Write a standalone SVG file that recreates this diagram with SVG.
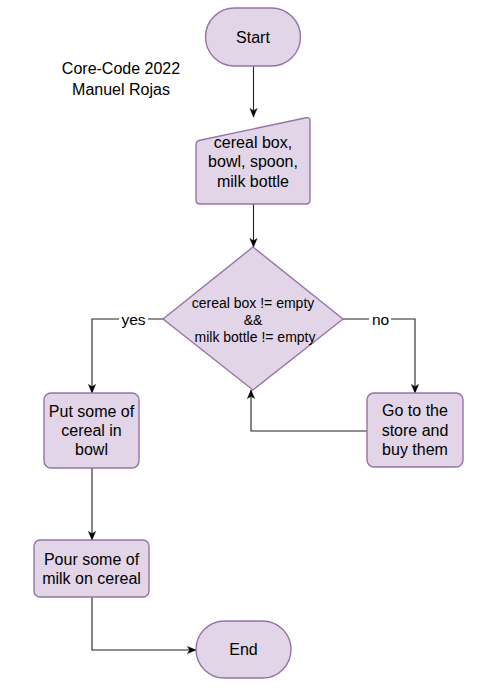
<svg xmlns="http://www.w3.org/2000/svg" width="480" height="693" viewBox="0 0 480 693">
<style>
.n{fill:#e1d5e7;stroke:#9673a6;stroke-width:1.4;stroke-linejoin:round}
.t{font-family:"Liberation Sans",Arial,sans-serif;font-size:16px;fill:#000;text-anchor:middle}
.d{font-size:14px}
.c{fill:none;stroke:#222;stroke-width:1.1;marker-end:url(#a)}
.l{font-family:"Liberation Sans",Arial,sans-serif;font-size:15.5px;fill:#000;text-anchor:middle}
</style>
<defs>
<marker id="a" viewBox="0 0 10 10" refX="10" refY="5" markerWidth="9" markerHeight="9" markerUnits="userSpaceOnUse" orient="auto">
<path d="M0.5,1 L10,5 L0.5,9 L3,5 Z" fill="#000" stroke="#000" stroke-width="0.5"/>
</marker>
</defs>
<rect width="480" height="693" fill="#fff"/>
<g id="credit">
<text class="t" x="121" y="74">Core-Code 2022</text>
<text class="t" x="121" y="95">Manuel Rojas</text>
</g>
<g id="connectors">
<path class="c" d="M253.5,66 L253.5,117"/>
<path class="c" d="M253.5,204 L253.5,247"/>
<path class="c" d="M163,319 L92,319 L92,393"/>
<path class="c" d="M343,319 L415,319 L415,393"/>
<path class="c" d="M367,431 L251,431 L251,390"/>
<path class="c" d="M92,468 L92,540"/>
<path class="c" d="M92,597 L92,650 L196,650"/>
<rect x="119" y="310" width="29" height="18" fill="#fff"/>
<text class="l" x="133.5" y="324.5">yes</text>
<rect x="369" y="310" width="22" height="18" fill="#fff"/>
<text class="l" x="380.5" y="324.5">no</text>
</g>
<g id="start">
<rect class="n" x="205.5" y="8" width="95" height="58" rx="29" ry="29"/>
<text class="t" x="253" y="43">Start</text>
</g>
<g id="input">
<path class="n" d="M196,145 Q196,141 199.9,140.2 L306.1,117.8 Q310,117 310,121 L310,200 Q310,204 306,204 L200,204 Q196,204 196,200 Z"/>
<text class="t" x="253" y="147.5">cereal box,</text>
<text class="t" x="253" y="167">bowl, spoon,</text>
<text class="t" x="253" y="186.5">milk bottle</text>
</g>
<g id="decision">
<path class="n" d="M253,247 L343,319 L253,390 L163,319 Z"/>
<text class="t d" x="253" y="308">cereal box != empty</text>
<text class="t d" x="253" y="325">&amp;&amp;</text>
<text class="t d" x="255" y="342">milk bottle != empty</text>
</g>
<g id="put">
<rect class="n" x="44" y="393" width="95" height="75" rx="7"/>
<text class="t" x="91.5" y="416.5">Put some of</text>
<text class="t" x="91.5" y="436">cereal in</text>
<text class="t" x="91.5" y="455">bowl</text>
</g>
<g id="store">
<rect class="n" x="367" y="393" width="96" height="74" rx="7"/>
<text class="t" x="415" y="416">Go to the</text>
<text class="t" x="415" y="435.5">store and</text>
<text class="t" x="415" y="455">buy them</text>
</g>
<g id="pour">
<rect class="n" x="34" y="540" width="115" height="57" rx="6"/>
<text class="t" x="91.5" y="565">Pour some of</text>
<text class="t" x="91.5" y="584">milk on cereal</text>
</g>
<g id="end">
<rect class="n" x="196" y="621" width="95" height="57" rx="28.5" ry="28.5"/>
<text class="t" x="243.5" y="655">End</text>
</g>
</svg>
